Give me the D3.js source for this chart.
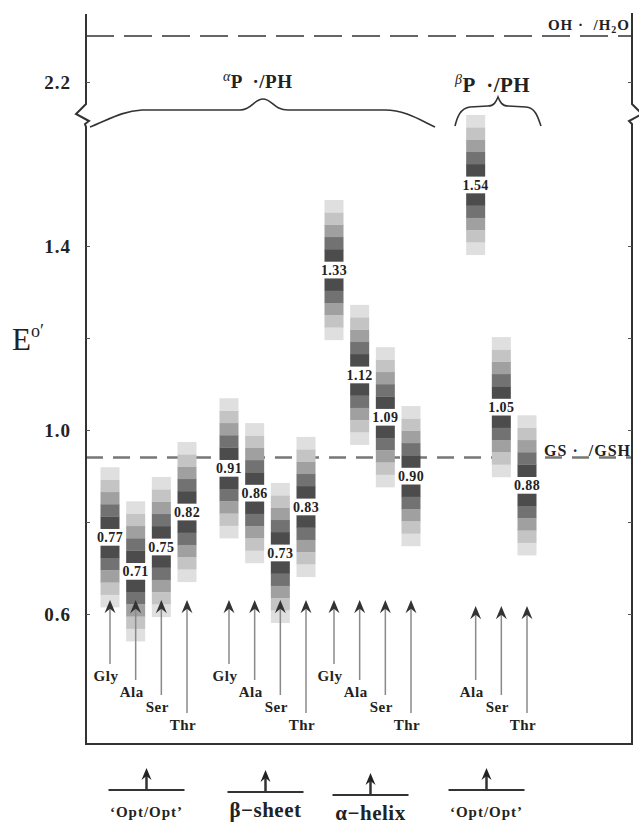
<!DOCTYPE html>
<html>
<head>
<meta charset="utf-8">
<script src="https://cdn.jsdelivr.net/npm/d3@7/dist/d3.min.js"></script>
<style>
	html, body { margin: 0; padding: 0; background: #fff; }
	svg { display: block; font-family: 'Liberation Serif', 'Times New Roman', serif; }
	.tick-lbl { font-weight: bold; font-size: 19px; letter-spacing: 1px; fill: #222; }
	.bar-lbl { font-weight: bold; font-size: 14px; letter-spacing: 0.4px; fill: #222; }
	.res-lbl { font-weight: bold; font-size: 15px; letter-spacing: 0.5px; fill: #222; }
	.grp-lbl { font-weight: bold; fill: #222; }
</style>
</head>
<body>
<svg id="chart" width="639" height="825"></svg>
<script>
// ---- data ----
const groups = ['\u2018Opt/Opt\u2019', '\u03b2\u2212sheet', '\u03b1\u2212helix', '\u2018Opt/Opt\u2019'];
const residues = ['Gly', 'Ala', 'Ser', 'Thr'];

// E°' printed on each bar (V); null = no bar
const optValues = [0.77, 0.71, 0.75, 0.82];
const sheetValues = [0.91, 0.86, 0.73, 0.83];
const helixValues = [1.33, 1.12, 1.09, 0.90];
const betaOptValues = [null, 1.54, 1.05, 0.88];

// where the centre of each bar sits on the E axis in the figure
const optCentres = [0.767, 0.693, 0.746, 0.822];
const sheetCentres = [0.917, 0.863, 0.733, 0.833];
const helixCentres = [1.348, 1.12, 1.028, 0.90];
const betaOptCentres = [null, 1.533, 1.05, 0.88];

const yTicks = [0.6, 0.8, 1.0, 1.2, 1.4];
const yTickLabels = [0.6, 1.0, 1.4];
const upperTicks = [2.2];
const ohLevel = 2.30;
const gsLevel = 0.94;

(function() {

	'use strict';

	const svg = d3.select('#chart');

	const plot = { left: 86, right: 632, top: 14, bottom: 744 };

	// lower and upper part of the broken E axis share the same V/px ratio
	const yLow = d3.scaleLinear().domain([0.6, 1.4]).range([614, 246]);
	const yHigh = d3.scaleLinear().domain([2.2, 2.3]).range([82, 36]);

	// x position of the first residue slot of every group, and slot spacing
	const groupStart = [110, 229, 334, 450];
	const slot = d3.scalePoint().domain(residues).range([0, 77]);

	const valueSets = [optValues, sheetValues, helixValues, betaOptValues];
	const centreSets = [optCentres, sheetCentres, helixCentres, betaOptCentres];

	const shades = ['#4c4c4c', '#727272', '#a0a0a0', '#c4c4c4', '#dfdfdf']; // inner -> outer
	const labelGap = 0.0185,
		blockStep = 0.0267,
		barWidth = 19;

	const resBaseline = [681, 697, 712, 730];
	const arrowTip = [600, 600, 600, 606];
	const markerY = [790, 792, 795, 790];

	const flat = [];
	valueSets.forEach(function(vals, g) {
		vals.forEach(function(v, i) {
			flat.push({ g: g, res: residues[i], value: v, centre: centreSets[g][i],
				x: groupStart[g] + slot(residues[i]) });
		});
	});

	/**
	* axes with the break near the top
	*/
	const drawAxes = function() {
		const l = plot.left, r = plot.right;
		svg.append('path')
			.attr('d', 'M' + l + ',' + plot.top + 'V104L76,114L89,121L85,124L' + l + ',127V' + plot.bottom + 'H' + r +
				'V127L' + r + ',124L629,121L642,114L' + r + ',104V' + (plot.top - 1))
			.attr('fill', 'none')
			.attr('stroke', '#333')
			.attr('stroke-width', 2);

		const fmt = function(d) { return (yTickLabels.indexOf(d) >= 0 || upperTicks.indexOf(d) >= 0) ? d3.format('.1f')(d) : ''; };

		[[yLow, yTicks], [yHigh, upperTicks]].forEach(function(pair) {
			const left = svg.append('g')
				.attr('transform', 'translate(' + l + ',0)')
				.call(d3.axisLeft(pair[0]).tickValues(pair[1]).tickSize(-4).tickPadding(15).tickFormat(fmt));
			left.select('.domain').remove();
			left.selectAll('line').attr('stroke', '#555');
			left.selectAll('text').attr('class', 'tick-lbl').attr('dy', '0.35em');
			left.attr('font-family', null).attr('font-size', null);

			const right = svg.append('g')
				.attr('transform', 'translate(' + r + ',0)')
				.call(d3.axisRight(pair[0]).tickValues(pair[1]).tickSize(-4).tickFormat(''));
			right.select('.domain').remove();
			right.selectAll('line').attr('stroke', '#555');
		});

		const eLbl = svg.append('text')
			.attr('x', 12)
			.attr('y', 350)
			.attr('font-size', 31)
			.attr('fill', '#222');
		eLbl.append('tspan').text('E');
		eLbl.append('tspan').attr('font-size', 18).attr('dy', -13).text('o\u2032');
	};

	/**
	* reference couples drawn as dashed lines
	*/
	const drawReferenceLines = function() {
		svg.append('line')
			.attr('x1', plot.left).attr('x2', plot.right)
			.attr('y1', yHigh(ohLevel)).attr('y2', yHigh(ohLevel))
			.attr('stroke', '#333')
			.attr('stroke-width', 1.6)
			.attr('stroke-dasharray', '28,10');

		const oh = svg.append('text')
			.attr('x', 630).attr('y', yHigh(ohLevel) - 6)
			.attr('text-anchor', 'end')
			.attr('class', 'grp-lbl')
			.attr('font-size', 15)
			.attr('letter-spacing', 1)
			.attr('xml:space', 'preserve');
		oh.append('tspan').text('OH \u00b7  /H');
		oh.append('tspan').attr('font-size', 10).attr('dy', 3).text('2');
		oh.append('tspan').attr('dy', -3).text('O');

		svg.append('line')
			.attr('x1', plot.left).attr('x2', plot.right)
			.attr('y1', yLow(gsLevel)).attr('y2', yLow(gsLevel))
			.attr('stroke', '#777')
			.attr('stroke-width', 2.5)
			.attr('stroke-dasharray', '17,10');

		svg.append('text')
			.attr('x', 631).attr('y', yLow(gsLevel) - 2)
			.attr('text-anchor', 'end')
			.attr('class', 'grp-lbl')
			.attr('fill', '#444')
			.attr('font-size', 16)
			.attr('letter-spacing', 1)
			.attr('xml:space', 'preserve')
			.text('GS \u00b7  /GSH');
	};

	/**
	* braces and the radical labels at the top
	*/
	const drawBraces = function() {
		svg.append('path')
			.attr('d', 'M90,127C108,120 122,111 142,110L240,110C252,110 254,99 263,99C272,99 274,110 288,110L385,110C405,110 420,120 435,127')
			.attr('fill', 'none').attr('stroke', '#333').attr('stroke-width', 1.6);

		svg.append('path')
			.attr('d', 'M455,126C457,118 460,108 470,107L488,106C494,106 496,102 498,97C500,102 502,106 508,106L526,107C536,108 538,118 541,126')
			.attr('fill', 'none').attr('stroke', '#333').attr('stroke-width', 1.6);

		const a = svg.append('text').attr('x', 223).attr('y', 88).attr('class', 'grp-lbl').attr('font-size', 19).attr('letter-spacing', 0.5);
		a.append('tspan').attr('font-style', 'italic').attr('font-weight', 'normal').attr('font-size', 14).attr('dy', -7).text('\u03b1');
		a.append('tspan').attr('dy', 7).attr('xml:space', 'preserve').text('P  \u00b7/PH');

		const b = svg.append('text').attr('x', 455).attr('y', 92).attr('class', 'grp-lbl').attr('font-size', 21).attr('letter-spacing', 0.5);
		b.append('tspan').attr('font-style', 'italic').attr('font-weight', 'normal').attr('font-size', 14).attr('dy', -8).text('\u03b2');
		b.append('tspan').attr('dy', 8).attr('xml:space', 'preserve').text('P  \u00b7/PH');
	};

	/**
	* shaded bars: 5 blocks above and 5 below the centre, darkest next to the label
	*/
	const drawBars = function() {
		const blocks = [];
		flat.filter(function(d) { return d.value !== null; }).forEach(function(d) {
			[1, -1].forEach(function(side) {
				for (let k = 0; k < shades.length; k++) {
					const a = d.centre + side * (labelGap + k * blockStep),
						b = d.centre + side * (labelGap + (k + 1) * blockStep);
					blocks.push({ x: d.x, hi: Math.max(a, b), lo: Math.min(a, b), k: k });
				}
			});
		});

		svg.append('g').selectAll('rect')
			.data(blocks)
			.enter()
			.append('rect')
			.attr('x', function(d) { return d.x - barWidth / 2; })
			.attr('y', function(d) { return yLow(d.hi); })
			.attr('width', barWidth)
			.attr('height', function(d) { return yLow(d.lo) - yLow(d.hi) + 0.3; })
			.attr('fill', function(d) { return shades[d.k]; });

		svg.append('g').selectAll('text')
			.data(flat.filter(function(d) { return d.value !== null; }))
			.enter()
			.append('text')
			.attr('class', 'bar-lbl')
			.attr('x', function(d) { return d.x; })
			.attr('y', function(d) { return yLow(d.centre) + 5; })
			.attr('text-anchor', 'middle')
			.text(function(d) { return d3.format('.2f')(d.value); });
	};

	const arrowHead = function(x, y, s) {
		return 'M' + x + ',' + y + 'L' + (x + 5 * s) + ',' + (y + 12 * s) + 'L' + x + ',' + (y + 8 * s) +
			'L' + (x - 5 * s) + ',' + (y + 12 * s) + 'Z';
	};

	/**
	* residue arrows and names under the bars
	*/
	const drawResidueArrows = function() {
		const items = flat.filter(function(d) { return d.value !== null; });
		const g = svg.append('g');

		g.selectAll('line')
			.data(items)
			.enter()
			.append('line')
			.attr('x1', function(d) { return d.x; })
			.attr('x2', function(d) { return d.x; })
			.attr('y1', function(d) { return arrowTip[d.g] + 8; })
			.attr('y2', function(d) { return resBaseline[residues.indexOf(d.res)] - 17; })
			.attr('stroke', '#8a8a8a')
			.attr('stroke-width', 1.5);

		g.selectAll('path')
			.data(items)
			.enter()
			.append('path')
			.attr('d', function(d) { return arrowHead(d.x, arrowTip[d.g], 1.1); })
			.attr('fill', '#333');

		g.selectAll('text')
			.data(items)
			.enter()
			.append('text')
			.attr('class', 'res-lbl')
			.attr('x', function(d) { return d.x - 4; })
			.attr('y', function(d) { return resBaseline[residues.indexOf(d.res)]; })
			.attr('text-anchor', 'middle')
			.text(function(d) { return d.res; });
	};

	/**
	* conformation markers below the frame
	*/
	const drawGroupMarkers = function() {
		const halfSpan = slot.range()[1] / 2;
		const mk = svg.append('g').selectAll('g')
			.data(groups)
			.enter()
			.append('g')
			.attr('transform', function(d, i) { return 'translate(' + (groupStart[i] + halfSpan - 2) + ',' + markerY[i] + ')'; });

		mk.append('line')
			.attr('x1', -38).attr('x2', 38)
			.attr('stroke', '#333').attr('stroke-width', 2);
		mk.append('line')
			.attr('y1', 0).attr('y2', -14)
			.attr('stroke', '#333').attr('stroke-width', 2.5);
		mk.append('path')
			.attr('d', arrowHead(0, -22, 1))
			.attr('fill', '#222');
		mk.append('text')
			.attr('class', 'grp-lbl')
			.attr('text-anchor', 'middle')
			.attr('y', function(d) { return d.charAt(0) === '\u2018' ? 27 : 25; })
			.attr('font-size', function(d) { return d.charAt(0) === '\u2018' ? 15 : 21; })
			.attr('letter-spacing', function(d) { return d.charAt(0) === '\u2018' ? 1 : 0.5; })
			.text(function(d) { return d; });
	};

	drawReferenceLines();
	drawBars();
	drawResidueArrows();
	drawAxes();
	drawBraces();
	drawGroupMarkers();

})();
</script>
</body>
</html>
